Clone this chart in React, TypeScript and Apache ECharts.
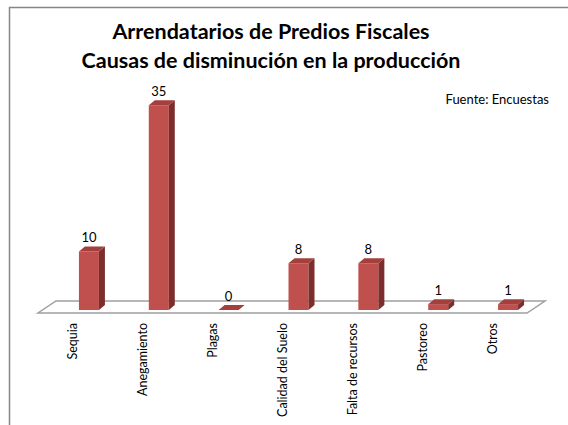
import React, { useEffect, useRef } from "react";
import * as echarts from "echarts";

const categories = ["Sequia", "Anegamiento", "Plagas", "Calidad del Suelo", "Falta de recursos", "Pastoreo", "Otros"];
const values = [10, 35, 0, 8, 8, 1, 1];
const titleLines = ["Arrendatarios de Predios Fiscales", "Causas de disminución en la producción"];
const sourceText = "Fuente: Encuestas";

const FONT = "Lato, 'Open Sans', sans-serif";

export default function App() {
  const ref = useRef<HTMLDivElement>(null);
  useEffect(() => {
    if (!ref.current) return;
    const chart = echarts.init(ref.current, null, { renderer: "svg" });
    const barHalf = 10;
    const shiftX = 16;
    const shiftY = -3;
    const depthX = 6;
    const depthY = -5;
    chart.setOption({
      animation: false,
      backgroundColor: "#ffffff",
      title: [
        {
          text: titleLines.join("\n"),
          left: 266,
          top: 11,
          textAlign: "center",
          textStyle: {
            fontFamily: FONT,
            fontSize: 21.5,
            fontWeight: "bold",
            color: "#000000",
            lineHeight: 29,
          },
        },
        {
          text: sourceText,
          right: 14,
          top: 87,
          textStyle: { fontFamily: FONT, fontSize: 13, fontWeight: "normal", color: "#000000" },
        },
      ],
      graphic: [
        {
          type: "rect",
          shape: { x: 9.5, y: 7.5, width: 700, height: 700 },
          style: { fill: "none", stroke: "#868686", lineWidth: 1.5 },
          silent: true,
        },
      ],
      grid: { left: 38, right: 41, top: 79, bottom: 112 },
      xAxis: {
        type: "category",
        data: categories,
        axisLine: { show: false },
        axisTick: { show: false },
        axisLabel: {
          rotate: 90,
          margin: 10,
          interval: 0,
          fontFamily: FONT,
          fontSize: 12.5,
          color: "#000000",
        },
      },
      yAxis: {
        type: "value",
        min: 0,
        max: 40,
        interval: 10,
        show: false,
        splitLine: { show: false },
      },
      series: [
        {
          type: "custom",
          z: 1,
          data: [[0, 0]],
          renderItem: (params: any) => {
            const cs = params.coordSys;
            const x0 = cs.x;
            const x1 = cs.x + cs.width;
            const yb = cs.y + cs.height;
            return {
              type: "polygon",
              shape: {
                points: [
                  [x0, yb],
                  [x1, yb],
                  [x1 + 18, yb - 12],
                  [x0 + 18, yb - 12],
                ],
              },
              style: { fill: "#ffffff", stroke: "#a0a0a0", lineWidth: 1.5 },
            };
          },
        },
        {
          type: "custom",
          z: 2,
          data: values.map((v, i) => [i, v]),
          renderItem: (params: any, api: any) => {
            const idx = api.value(0);
            const val = api.value(1);
            const base = api.coord([idx, 0]);
            const top = api.coord([idx, val]);
            const cx = base[0] + shiftX;
            const xa = cx - barHalf;
            const xb = cx + barHalf;
            const yBot = base[1] + shiftY;
            const yTop = top[1] + shiftY;
            return {
              type: "group",
              children: [
                {
                  type: "rect",
                  shape: { x: xa, y: yTop, width: xb - xa, height: yBot - yTop },
                  style: { fill: "#c0504d" },
                },
                {
                  type: "polygon",
                  shape: {
                    points: [
                      [xb, yTop],
                      [xb + depthX, yTop + depthY],
                      [xb + depthX, yBot + depthY],
                      [xb, yBot],
                    ],
                  },
                  style: { fill: "#7d2e2c" },
                },
                {
                  type: "polygon",
                  shape: {
                    points: [
                      [xa, yTop],
                      [xb, yTop],
                      [xb + depthX, yTop + depthY],
                      [xa + depthX, yTop + depthY],
                    ],
                  },
                  style: { fill: "#a33f3c" },
                },
                {
                  type: "text",
                  style: {
                    text: String(val),
                    x: cx,
                    y: yTop + depthY - 3,
                    textAlign: "center",
                    textVerticalAlign: "bottom",
                    fontFamily: FONT,
                    fontSize: 13,
                    fill: "#000000",
                  },
                },
              ],
            };
          },
        },
      ],
    });
    return () => chart.dispose();
  }, []);
  return (
    <div
      ref={ref}
      style={{ position: "fixed", left: 0, top: 0, width: 568, height: 425, background: "#fff" }}
    />
  );
}
